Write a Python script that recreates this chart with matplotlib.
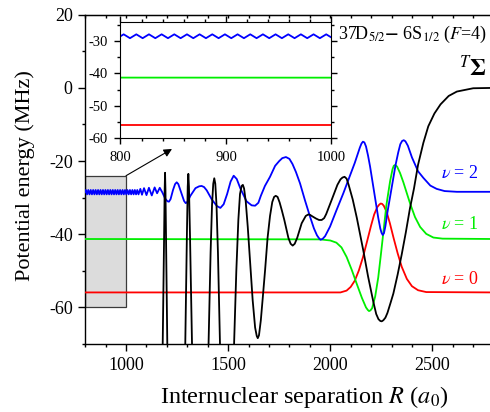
import numpy as np
import matplotlib
matplotlib.use("Agg")
import matplotlib.pyplot as plt
from matplotlib.ticker import MultipleLocator
from matplotlib.patches import Rectangle

plt.rcParams["font.family"] = ["Liberation Serif", "DejaVu Serif"]
plt.rcParams["mathtext.fontset"] = "stix"
plt.rcParams["axes.unicode_minus"] = False

# ---------------- data (R in a0, energy in MHz) ----------------
# nu = 0 vibrational state
red_x = [800, 2050, 2080, 2100, 2120, 2140, 2160, 2180, 2200, 2215, 2230, 2240, 2247,
         2254, 2262, 2276, 2292, 2310, 2330, 2350, 2375, 2400, 2430, 2470, 2800]
red_y = [-55.9, -55.9, -55.4, -54.4, -52.7, -49.9, -46.3, -42.0, -37.6, -34.6, -32.6, -31.9, -31.6,
         -31.7, -32.2, -33.9, -37.0, -41.0, -45.2, -48.9, -52.2, -54.2, -55.3, -55.8, -55.9]

# nu = 1 vibrational state
green_x = [800, 1950, 2000, 2030, 2055, 2080, 2105, 2130, 2155, 2175, 2184, 2190, 2197,
           2205, 2220, 2235, 2248, 2260, 2275, 2293, 2305, 2311, 2316, 2322, 2328, 2342,
           2358, 2375, 2391, 2415, 2440, 2470, 2505, 2550, 2800]
green_y = [-41.3, -41.4, -41.7, -42.3, -43.6, -46.2, -49.7, -53.6, -57.4, -60.0, -60.7, -61.0, -60.8,
           -60.2, -57.0, -51.8, -45.5, -39.5, -32.0, -25.5, -22.2, -21.3, -21.1, -21.2, -21.6, -23.3,
           -25.8, -28.8, -31.6, -35.3, -38.0, -39.9, -40.9, -41.2, -41.3]

# nu = 2 vibrational state: fast ripple at short range
blue_ripple_x = np.arange(800, 1064, 3)
blue_ripple_y = [
    -28.5, -27.9, -28.5, -29.1, -28.5, -27.9, -28.5, -29.1,
    -28.5, -27.9, -28.5, -29.1, -28.5, -27.9, -28.5, -29.1,
    -28.5, -27.9, -28.5, -29.1, -28.5, -27.9, -28.5, -29.1,
    -28.5, -27.9, -28.5, -29.1, -28.5, -27.9, -28.5, -29.1,
    -28.5, -27.9, -28.5, -29.1, -28.5, -27.9, -28.5, -29.1,
    -28.5, -27.9, -28.5, -29.1, -28.5, -27.9, -28.5, -29.1,
    -28.5, -27.9, -28.5, -29.1, -28.5, -27.9, -28.5, -29.1,
    -28.5, -27.9, -28.5, -29.1, -28.5, -27.9, -28.5, -29.1,
    -28.5, -27.9, -28.5, -29.1, -28.5, -27.9, -28.5, -29.1,
    -28.5, -27.9, -28.5, -29.1, -28.5, -27.9, -28.5, -29.1,
    -28.5, -27.9, -28.5, -29.1, -28.5, -27.9, -28.5, -29.1,
]
blue_tail_x = [1070, 1078, 1088, 1100, 1112, 1126, 1140, 1152, 1165, 1178, 1192, 1203, 1210,
               1218, 1230, 1240, 1248, 1256, 1270, 1284, 1292, 1300, 1315, 1340, 1358, 1370,
               1382, 1395, 1420, 1445, 1462, 1478, 1495, 1512, 1527, 1542, 1560, 1590, 1615,
               1632, 1648, 1660, 1680, 1705, 1730, 1750, 1765, 1783, 1800, 1815, 1832, 1852,
               1876, 1901, 1920, 1935, 1945, 1952, 1962, 1975, 1999, 2030, 2064, 2100, 2120,
               2135, 2145, 2153, 2160, 2167, 2175, 2185, 2195, 2215, 2235, 2245, 2251, 2257,
               2263, 2270, 2280, 2300, 2320, 2333, 2343, 2352, 2360, 2368, 2380, 2400, 2430,
               2456, 2490, 2521, 2560, 2620, 2800]
blue_tail_y = [-27.6, -29.2, -27.4, -29.3, -27.3, -29.4, -27.2, -28.8, -27.3, -28.6, -30.3, -31.0, -31.1,
               -30.4, -27.9, -26.3, -25.8, -26.3, -28.6, -30.9, -31.5, -31.2, -29.5, -27.4, -26.9, -26.8,
               -27.1, -28.0, -30.5, -32.3, -32.8, -31.8, -29.0, -25.6, -24.0, -24.9, -27.5, -31.0, -32.1,
               -32.2, -31.4, -29.5, -26.8, -24.3, -21.3, -20.0, -19.2, -18.9, -19.4, -20.8, -23.0, -26.1,
               -30.7, -35.2, -38.4, -40.3, -41.1, -41.5, -41.3, -40.5, -37.9, -33.5, -28.8, -23.5, -20.5,
               -18.0, -16.3, -15.2, -14.7, -14.9, -16.0, -18.5, -21.5, -28.5, -35.5, -38.4, -39.6, -40.2,
               -39.7, -37.8, -34.0, -27.5, -21.0, -17.6, -15.4, -14.5, -14.3, -14.6, -15.8, -19.0, -22.8,
               -24.6, -26.7, -27.6, -28.2, -28.4, -28.4]
blue_x = np.concatenate([blue_ripple_x, blue_tail_x])
blue_y = np.concatenate([blue_ripple_y, blue_tail_y])

# Sigma potential curve (deep inner wells leave the frame; gaps between them)
pot_x = [1179.5, 1186, 1189, 1191, 1193, 1196, 1202, np.nan,
         1290, 1298, 1302, 1305, 1308, 1313, 1323, np.nan,
         1404, 1414, 1421, 1427, 1432, 1437, 1443, 1450, 1460, np.nan,
         1529, 1540, 1550, 1558, 1566, 1572, 1578, 1586, 1596, 1608, 1620, 1632,
         1640, 1645, 1651, 1660, 1670, 1681, 1693, 1705, 1716, 1725, 1733, 1742,
         1752, 1763, 1775, 1795, 1806, 1816, 1826, 1838, 1860, 1880, 1892, 1901,
         1912, 1930, 1945, 1958, 1970, 1980, 2007, 2035, 2050, 2060, 2070, 2080,
         2090, 2110, 2130, 2146, 2162, 2185, 2211, 2225, 2236, 2245, 2252, 2260,
         2270, 2280, 2295, 2309, 2330, 2350, 2370, 2390, 2410, 2430, 2456, 2480,
         2510, 2540, 2580, 2620, 2700, 2800]
pot_y = [-70, -42, -28, -23.2, -28, -42, -70, np.nan,
         -70, -40, -27, -23.5, -27, -40, -70, np.nan,
         -70, -45, -32, -26.2, -24.7, -26.2, -32, -45, -70, np.nan,
         -70, -50, -36, -29, -26.8, -26.5, -27.5, -31, -38, -48, -58, -65.5,
         -67.8, -68.4, -67.6, -63.5, -57, -49.7, -41, -35, -31.2, -29.8, -29.5, -29.8,
         -31.3, -33.5, -36.1, -41, -42.6, -43.1, -42.6, -41, -37, -35, -34.6, -34.7,
         -35.1, -35.7, -36.1, -36.1, -35.6, -34.5, -30.6, -26.5, -25, -24.5, -24.3, -24.8,
         -26.5, -30.5, -35.5, -40, -44.5, -51.5, -58.5, -61.8, -63.2, -63.7, -63.8, -63.5,
         -62.8, -61.5, -58.8, -56.2, -51, -45.5, -39.5, -33, -27.5, -21, -15, -10.5,
         -7, -4.5, -2.2, -1, -0.1, 0]

state_labels = [r"$\nu$ = 2", r"$\nu$ = 1", r"$\nu$ = 0"]
state_label_y = [-24.6, -38.5, -53.5]
state_colors = ["#0000ff", "#00ee00", "#ff0000"]

zoom_box = (800, 1000, -60, -24)

# ---------------- figure ----------------
fig = plt.figure(figsize=(4.9, 4.12), dpi=100)
ax = fig.add_axes([0.1739, 0.1650, 0.8335, 0.7993])

lw = 1.3
ax.plot(red_x, red_y, color=state_colors[2], lw=lw, zorder=3)
ax.plot(green_x, green_y, color=state_colors[1], lw=lw, zorder=3)
ax.plot(blue_x, blue_y, color=state_colors[0], lw=lw, zorder=3)
ax.plot(pot_x, pot_y, color="black", lw=lw, zorder=4)

x0, x1, y0, y1 = zoom_box
ax.add_patch(Rectangle((x0, y0), x1 - x0, y1 - y0, facecolor="#dcdcdc",
                       edgecolor="#3a3a3a", lw=0.9, zorder=1))
ax.annotate("", xy=(1225, -16.7), xytext=(x1, y1),
            arrowprops=dict(arrowstyle="-|>", color="black", lw=0.8,
                            mutation_scale=12, shrinkA=0, shrinkB=0))

for txt, yy, c in zip(state_labels, state_label_y, state_colors):
    ax.text(2542, yy, txt, color=c, fontsize=13, va="baseline", ha="left")

ax.set_xlim(800, 2800)
ax.set_ylim(-70, 20)
ax.xaxis.set_major_locator(MultipleLocator(500))
ax.xaxis.set_minor_locator(MultipleLocator(100))
ax.yaxis.set_major_locator(MultipleLocator(20))
ax.yaxis.set_minor_locator(MultipleLocator(10))
ax.tick_params(axis="both", which="major", direction="out", length=5, width=1,
               labelsize=13, pad=4)
ax.tick_params(axis="both", which="minor", direction="out", length=2.5, width=1)
ax.xaxis.set_major_formatter(plt.FuncFormatter(lambda v, p: "" if v == 800 else f"{v:.0f}"))
for s in ax.spines.values():
    s.set_linewidth(1)

top = ax.secondary_xaxis("top")
top.xaxis.set_major_locator(MultipleLocator(100))
top.tick_params(direction="in", length=2.5, width=1, labeltop=False)

fig.text(25 / 490, 1 - 175.5 / 412, "Potential energy (MHz)", rotation=90,
         ha="center", va="center", fontsize=16)
fig.text(304 / 490, 0.022, r"Internuclear separation $R$ ($a_0$)",
         ha="center", va="baseline", fontsize=17.5)

fig.text(487 / 490, (412 - 39) / 412, r"37D$_{5/2}$$\mathbf{-}$ 6S$_{1/2}$ ($F$=4)",
         ha="right", va="baseline", fontsize=13)
fig.text(487 / 490, (412 - 76) / 412, r"$^{T}\mathbf{\Sigma}$",
         ha="right", va="baseline", fontsize=17)

# ---------------- inset ----------------
ins = fig.add_axes([0.2459, 0.6650, 0.4306, 0.2823])
ins.set_facecolor("white")
ins.plot(red_x, red_y, color=state_colors[2], lw=1.3)
ins.plot(green_x, green_y, color=state_colors[1], lw=1.3)
ins.plot(blue_x, blue_y, color=state_colors[0], lw=1.3)
ins.set_xlim(x0, x1)
ins.set_ylim(y0, y1)
ins.xaxis.set_major_locator(MultipleLocator(100))
ins.xaxis.set_minor_locator(MultipleLocator(20))
ins.yaxis.set_major_locator(MultipleLocator(10))
ins.yaxis.set_minor_locator(MultipleLocator(5))
ins.tick_params(axis="both", which="both", direction="out", top=True, right=True,
                width=1)
ins.tick_params(axis="both", which="major", length=4, labelsize=10.5, pad=5)
ins.tick_params(axis="both", which="minor", length=2)

fig.savefig("out.png", dpi=100)
